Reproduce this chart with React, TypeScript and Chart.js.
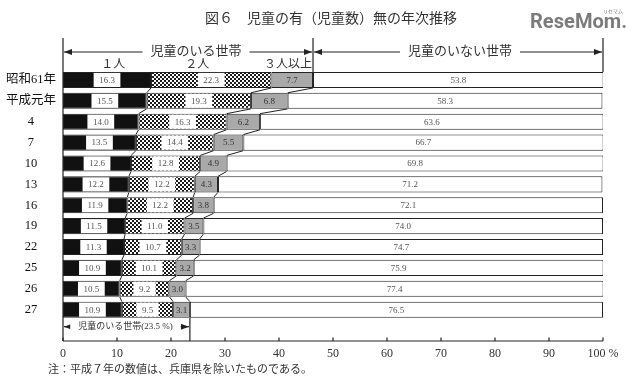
import React, { useEffect, useRef } from "react";
import { Chart, registerables } from "chart.js";

Chart.register(...registerables);

// ---- data ----
const years = ["昭和61年", "平成元年", "4", "7", "10", "13", "16", "19", "22", "25", "26", "27"];
const oneChild = [16.3, 15.5, 14.0, 13.5, 12.6, 12.2, 11.9, 11.5, 11.3, 10.9, 10.5, 10.9];
const twoChildren = [22.3, 19.3, 16.3, 14.4, 12.8, 12.2, 12.2, 11.0, 10.7, 10.1, 9.2, 9.5];
const threePlus = [7.7, 6.8, 6.2, 5.5, 4.9, 4.3, 3.8, 3.5, 3.3, 3.2, 3.0, 3.1];
const noChildren = [53.8, 58.3, 63.6, 66.7, 69.8, 71.2, 72.1, 74.0, 74.7, 75.9, 77.4, 76.5];
const withChildrenLatest = 23.5;
const xTickValues = [0, 10, 20, 30, 40, 50, 60, 70, 80, 90, 100];

const titleText = "図６　児童の有（児童数）無の年次推移";
const headerWith = "児童のいる世帯";
const headerWithout = "児童のいない世帯";
const seriesHeaders = ["１人", "２人", "３人以上"];
const annotationText = "児童のいる世帯(23.5 %)";
const noteText = "注：平成７年の数値は、兵庫県を除いたものである。";

const SERIF = "'Liberation Serif', 'DejaVu Serif', 'Noto Sans CJK JP', serif";
const INK = "#222";

function makeChecker(): CanvasPattern | string {
  const c = document.createElement("canvas");
  c.width = 4;
  c.height = 4;
  const g = c.getContext("2d");
  if (!g) return "#666";
  g.fillStyle = "#fff";
  g.fillRect(0, 0, 4, 4);
  g.fillStyle = "#1a1a1a";
  g.fillRect(0, 0, 2, 2);
  g.fillRect(2, 2, 2, 2);
  return g.createPattern(c, "repeat") || "#666";
}

function arrowHead(ctx: CanvasRenderingContext2D, tipX: number, y: number, dir: number) {
  ctx.beginPath();
  ctx.moveTo(tipX, y);
  ctx.lineTo(tipX - dir * 8, y - 3);
  ctx.lineTo(tipX - dir * 8, y + 3);
  ctx.closePath();
  ctx.fill();
}

function doubleArrow(
  ctx: CanvasRenderingContext2D,
  x1: number,
  x2: number,
  y: number,
  label: string,
  font: string,
  labelX: number
) {
  ctx.strokeStyle = INK;
  ctx.fillStyle = INK;
  ctx.lineWidth = 1.2;
  ctx.beginPath();
  ctx.moveTo(x1 + 1, y);
  ctx.lineTo(x2 - 1, y);
  ctx.stroke();
  arrowHead(ctx, x1 + 1, y, -1);
  arrowHead(ctx, x2 - 1, y, 1);
  ctx.font = font;
  const w = ctx.measureText(label).width;
  ctx.fillStyle = "#fff";
  ctx.fillRect(labelX - w / 2 - 8, y - 8, w + 16, 16);
  ctx.fillStyle = "#333";
  ctx.textAlign = "center";
  ctx.textBaseline = "middle";
  ctx.fillText(label, labelX, y);
}

const overlay = {
  id: "overlay",
  afterDatasetsDraw(chart: any) {
    const ctx: CanvasRenderingContext2D = chart.ctx;
    const xs = chart.scales.x;
    const area = chart.chartArea;
    const metas = [0, 1, 2, 3].map((i) => chart.getDatasetMeta(i));
    const series = [oneChild, twoChildren, threePlus, noChildren];
    const n = years.length;
    ctx.save();

    // segment value labels
    for (let i = 0; i < n; i++) {
      for (let d = 0; d < 4; d++) {
        const el: any = metas[d].data[i];
        if (!el) continue;
        const p = el.getProps(["x", "base", "y", "height"], true);
        const left = Math.min(p.x, p.base);
        const right = Math.max(p.x, p.base);
        const cx = (left + right) / 2;
        const txt = series[d][i].toFixed(1);
        ctx.font = `9px ${SERIF}`;
        if (d < 2) {
          const w = ctx.measureText(txt).width + 11;
          ctx.fillStyle = "#fff";
          ctx.fillRect(cx - w / 2, p.y - p.height / 2 + 1, w, p.height - 2);
        }
        ctx.fillStyle = d === 2 ? "#333" : "#555";
        ctx.textAlign = "center";
        ctx.textBaseline = "middle";
        ctx.fillText(txt, cx, p.y + 0.5);
      }
    }

    // connectors between bars
    ctx.strokeStyle = INK;
    ctx.lineWidth = 1;
    for (let d = 0; d < 3; d++) {
      for (let i = 0; i < n - 1; i++) {
        const a: any = metas[d].data[i];
        const b: any = metas[d].data[i + 1];
        if (!a || !b) continue;
        const pa = a.getProps(["x", "y", "height"], true);
        const pb = b.getProps(["x", "y", "height"], true);
        ctx.beginPath();
        ctx.moveTo(pa.x, pa.y + pa.height / 2);
        ctx.lineTo(pb.x, pb.y - pb.height / 2);
        ctx.stroke();
      }
    }

    const x0 = xs.getPixelForValue(0);
    const x100 = xs.getPixelForValue(100);
    const xMid = xs.getPixelForValue(oneChild[0] + twoChildren[0] + threePlus[0]);
    const xLatest = xs.getPixelForValue(withChildrenLatest);
    const first: any = metas[0].data[0];
    const last: any = metas[0].data[n - 1];
    const firstTop = first.y - first.height / 2;
    const lastBottom = last.y + last.height / 2;
    const topY = area.top - 31.5;

    // vertical frame lines
    ctx.strokeStyle = INK;
    ctx.lineWidth = 1.2;
    ctx.beginPath();
    ctx.moveTo(x0, topY);
    ctx.lineTo(x0, area.bottom);
    ctx.moveTo(xMid, topY);
    ctx.lineTo(xMid, firstTop);
    ctx.moveTo(x100, topY);
    ctx.lineTo(x100, firstTop);
    ctx.moveTo(xLatest, lastBottom);
    ctx.lineTo(xLatest, area.bottom);
    ctx.stroke();

    // x axis line and inward ticks
    ctx.beginPath();
    ctx.moveTo(x0, area.bottom);
    ctx.lineTo(x100, area.bottom);
    for (const v of xTickValues) {
      const px = xs.getPixelForValue(v);
      ctx.moveTo(px, area.bottom);
      ctx.lineTo(px, area.bottom - 3.5);
    }
    ctx.stroke();

    // header arrows
    const headFont = `13px ${SERIF}`;
    const arrowY = area.top - 17.5;
    doubleArrow(ctx, x0, xMid, arrowY, headerWith, headFont, (x0 + xMid) / 2 + 8);
    doubleArrow(ctx, xMid, x100, arrowY, headerWithout, headFont, (xMid + x100) / 2 + 2);

    // series headers
    ctx.font = `12px ${SERIF}`;
    ctx.fillStyle = "#333";
    ctx.textBaseline = "middle";
    ctx.textAlign = "center";
    ctx.fillText(seriesHeaders[0], x0 + (first.x - x0) * 0.57, area.top - 4.5);
    const second: any = metas[1].data[0];
    ctx.fillText(seriesHeaders[1], (first.x + second.x) / 2 - 14, area.top - 4.5);
    ctx.textAlign = "right";
    ctx.fillText(seriesHeaders[2], xMid - 1, area.top - 4.5);

    // bottom annotation
    doubleArrow(ctx, x0, xLatest, lastBottom + 9, annotationText, `9px ${SERIF}`, (x0 + xLatest) / 2 - 1);

    // note
    ctx.font = `11px ${SERIF}`;
    ctx.fillStyle = "#333";
    ctx.textAlign = "left";
    ctx.textBaseline = "middle";
    ctx.fillText(noteText, 48, 370);

    // title
    ctx.font = `14px ${SERIF}`;
    ctx.fillStyle = "#333";
    ctx.textAlign = "center";
    ctx.fillText(titleText, 331, 19);

    // logo
    const logo = "ReseMom.";
    ctx.font = "bold 20px Roboto, 'Noto Sans', sans-serif";
    const lw = ctx.measureText(logo).width;
    const size = (20 * 97) / lw;
    ctx.font = `bold ${size.toFixed(1)}px Roboto, 'Noto Sans', sans-serif`;
    ctx.fillStyle = "#7b7b7b";
    ctx.textAlign = "left";
    ctx.fillText(logo, 530, 23);
    ctx.font = "5px 'Noto Sans CJK JP', sans-serif";
    ctx.fillText("リセマム", 603, 11);

    ctx.restore();
  },
};

export default function App() {
  const ref = useRef<HTMLCanvasElement | null>(null);

  useEffect(() => {
    document.body.style.margin = "0";
    const canvas = ref.current;
    if (!canvas) return;
    const checker = makeChecker();
    const labels = [...years, ""];
    const common = {
      borderColor: INK,
      borderWidth: 1,
      borderSkipped: false as const,
      barPercentage: 0.77,
      categoryPercentage: 1,
    };
    const chart = new Chart(canvas, {
      type: "bar",
      data: {
        labels,
        datasets: [
          { label: "1人", data: oneChild, backgroundColor: "#111", ...common },
          { label: "2人", data: twoChildren, backgroundColor: checker as any, ...common },
          { label: "3人以上", data: threePlus, backgroundColor: "#a9a9a9", ...common },
          { label: "児童のいない世帯", data: noChildren, backgroundColor: "#fff", ...common },
        ],
      },
      options: {
        indexAxis: "y",
        responsive: false,
        animation: false,
        layout: { padding: { top: 69.5, right: 37, bottom: 24, left: 0 } },
        plugins: {
          legend: { display: false },
          tooltip: { enabled: false },
          title: { display: false },
        },
        scales: {
          x: {
            type: "linear",
            stacked: true,
            min: 0,
            max: 100,
            grid: { display: false, drawTicks: false },
            border: { display: false },
            ticks: {
              stepSize: 10,
              padding: 6,
              color: "#333",
              font: { size: 12, family: SERIF },
              maxRotation: 0,
              callback: (v: any) => (Number(v) === 100 ? "100 %" : String(v)),
            },
            afterFit: (s: any) => {
              s.height = 22;
            },
          },
          y: {
            type: "category",
            stacked: true,
            grid: { display: false, drawTicks: false },
            border: { display: false },
            ticks: {
              autoSkip: false,
              crossAlign: "center",
              padding: 7,
              color: "#111",
              font: { size: 12.5, family: SERIF },
            },
            afterFit: (s: any) => {
              s.width = 63;
            },
          },
        },
      },
      plugins: [overlay],
    } as any);
    return () => chart.destroy();
  }, []);

  return (
    <div style={{ width: 640, height: 387, background: "#fff" }}>
      <canvas ref={ref} width={640} height={387} style={{ display: "block" }} />
    </div>
  );
}
